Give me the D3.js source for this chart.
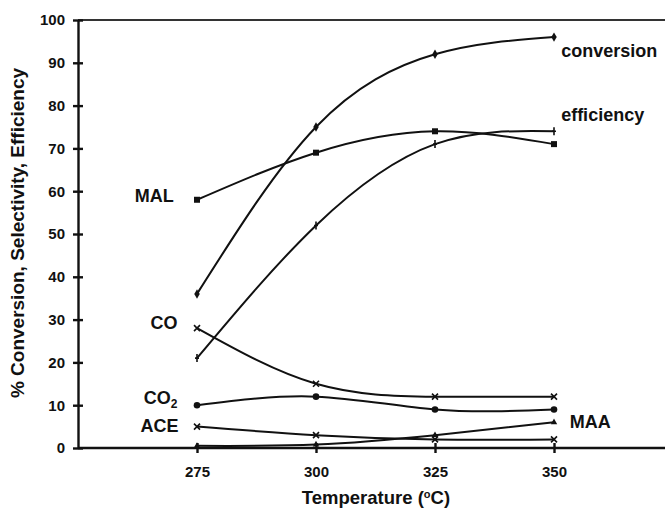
<!DOCTYPE html>
<html>
<head>
<meta charset="utf-8">
<script src="https://cdn.jsdelivr.net/npm/d3@7"></script>
<style>
  body { margin: 0; background: #fff; }
  text { font-family: "Liberation Sans", Arial, sans-serif; font-weight: bold; fill: #111; }
  .line { fill: none; stroke: #111; stroke-width: 2; }
  .axis line, .axis path { stroke: #111; stroke-width: 2.4; }
</style>
</head>
<body>
<svg id="chart" width="665" height="511"></svg>
<script>
(function() {
  'use strict';

  const temps = [275, 300, 325, 350];
  const yTicks = [0, 10, 20, 30, 40, 50, 60, 70, 80, 90, 100];

  const conversion = [36, 75, 92, 96];
  const efficiency = [21, 52, 71, 74];
  const mal = [58, 69, 74, 71];
  const co = [28, 15, 12, 12];
  const co2 = [10, 12, 9, 9];
  const ace = [5, 3, 2, 2];
  const maa = [0.5, 0.8, 3, 6];

  const series = [
    {name: 'conversion', values: conversion, marker: 'diamond'},
    {name: 'efficiency', values: efficiency, marker: 'plus'},
    {name: 'MAL', values: mal, marker: 'square'},
    {name: 'CO', values: co, marker: 'cross'},
    {name: 'CO2', values: co2, marker: 'circle'},
    {name: 'ACE', values: ace, marker: 'cross'},
    {name: 'MAA', values: maa, marker: 'triangle'}
  ];

  const svg = d3.select('#chart');

  const x = d3.scaleLinear().domain([250, 375]).range([78, 673]);
  const y = d3.scaleLinear().domain([0, 100]).range([448, 20]);

  const line = d3.line()
    .x((d, i) => x(temps[i]))
    .y(d => y(d))
    .curve(d3.curveNatural);

  // top border
  svg.append('line')
    .attr('x1', x(250)).attr('x2', 665)
    .attr('y1', y(100)).attr('y2', y(100))
    .attr('stroke', '#333').attr('stroke-width', 2);

  // y axis
  const yAxis = svg.append('g')
    .attr('class', 'axis')
    .attr('transform', `translate(${x(250)},0)`)
    .call(d3.axisLeft(y).tickValues(yTicks).tickSize(5).tickSizeOuter(0));
  yAxis.selectAll('.tick line').attr('x1', -5).attr('x2', 5);
  yAxis.selectAll('.tick text').style('font-size', '15px').attr('x', -13);

  // x axis
  const xAxis = svg.append('g')
    .attr('class', 'axis')
    .attr('transform', `translate(0,${y(0)})`)
    .call(d3.axisBottom(x).tickValues(temps).tickSize(5).tickSizeOuter(0));
  xAxis.select('.domain').attr('d', `M${x(250)},0H665`);
  xAxis.selectAll('.tick line').attr('y1', -5).attr('y2', 5);
  xAxis.selectAll('.tick text').style('font-size', '15px').attr('y', 18);

  series.forEach(s => {
    svg.append('path')
      .datum(s.values)
      .attr('class', 'line')
      .attr('d', line);

    const g = svg.append('g');
    s.values.forEach((v, i) => {
      const cx = x(temps[i]), cy = y(v);
      if (s.marker === 'diamond') {
        g.append('path').attr('d', d3.symbol(d3.symbolDiamond, 26)()).attr('transform', `translate(${cx},${cy})`).attr('fill', '#111');
      } else if (s.marker === 'square') {
        g.append('rect').attr('x', cx - 3).attr('y', cy - 3).attr('width', 6).attr('height', 6).attr('fill', '#111');
      } else if (s.marker === 'circle') {
        g.append('circle').attr('cx', cx).attr('cy', cy).attr('r', 3.3).attr('fill', '#111');
      } else if (s.marker === 'triangle') {
        g.append('path').attr('d', d3.symbol(d3.symbolTriangle, 18)()).attr('transform', `translate(${cx},${cy})`).attr('fill', '#111');
      } else if (s.marker === 'cross') {
        g.append('path').attr('d', `M${cx - 3},${cy - 3}L${cx + 3},${cy + 3}M${cx - 3},${cy + 3}L${cx + 3},${cy - 3}`)
          .attr('stroke', '#111').attr('stroke-width', 1.6);
      } else if (s.marker === 'plus') {
        g.append('path').attr('d', `M${cx},${cy - 4}V${cy + 4}M${cx - 2},${cy}H${cx + 2}`)
          .attr('stroke', '#111').attr('stroke-width', 1.6);
      }
    });
  });

  // series labels
  const labels = [
    {text: 'conversion', t: 351.5, v: 92.8, anchor: 'start'},
    {text: 'efficiency', t: 351.5, v: 77.8, anchor: 'start'},
    {text: 'MAL', t: 270.1, v: 58.9, anchor: 'end'},
    {text: 'CO', t: 270.9, v: 29.2, anchor: 'end'},
    {text: 'ACE', t: 271.1, v: 5.1, anchor: 'end'},
    {text: 'MAA', t: 353.3, v: 6.1, anchor: 'start'}
  ];
  labels.forEach(l => {
    svg.append('text')
      .attr('x', x(l.t)).attr('y', y(l.v))
      .attr('text-anchor', l.anchor)
      .attr('dy', '0.35em')
      .style('font-size', '18px')
      .text(l.text);
  });
  const co2Label = svg.append('text')
    .attr('x', x(270.9)).attr('y', y(11.7))
    .attr('text-anchor', 'end')
    .attr('dy', '0.35em')
    .style('font-size', '18px');
  co2Label.append('tspan').text('CO');
  co2Label.append('tspan').text('2').attr('dy', '4').style('font-size', '12px');

  // axis titles
  const xt = svg.append('text')
    .attr('x', 376).attr('y', 504)
    .attr('text-anchor', 'middle')
    .style('font-size', '18.5px');
  xt.append('tspan').text('Temperature (');
  xt.append('tspan').text('o').attr('dy', -6).style('font-size', '11px');
  xt.append('tspan').text('C)').attr('dy', 6);

  svg.append('text')
    .attr('transform', `translate(24,233) rotate(-90)`)
    .attr('text-anchor', 'middle')
    .style('font-size', '19px')
    .text('% Conversion, Selectivity, Efficiency');
})();
</script>
</body>
</html>
